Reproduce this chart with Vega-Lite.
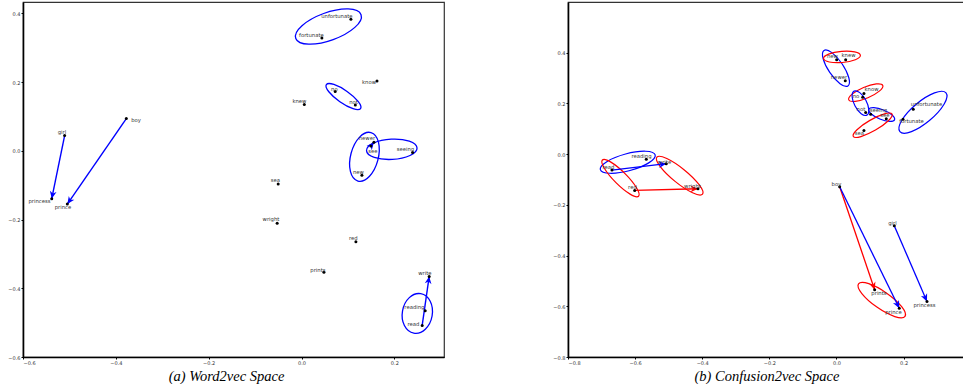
{
  "$schema": "https://vega.github.io/schema/vega-lite/v6.json",
  "background": "white",
  "padding": {"left": 7, "top": 1, "right": 0, "bottom": 0},
  "spacing": 107,
  "config": {
    "view": {"stroke": "#333", "strokeWidth": 1.2},
    "axis": {"grid": false, "domainColor": "#000", "domainWidth": 1.6, "tickColor": "#000", "tickSize": 2, "tickWidth": 1,
      "labelFont": "DejaVu Sans", "labelFontSize": 5, "labelColor": "#333", "labelPadding": 1,
      "titleFont": "Liberation Serif", "titleFontSize": 14.5, "titleFontWeight": "normal", "titleFontStyle": "italic", "titleColor": "#000", "titlePadding": 4, "format": ".1f"}
  },
  "resolve": {"scale": {"size": "independent", "shape": "independent", "color": "independent"}},
  "datasets": {
    "ptsA": [
      {"word": "girl", "x": -0.5103, "y": 0.0442, "lx": -0.516, "ly": 0.054},
      {"word": "boy", "x": -0.3774, "y": 0.0937, "lx": -0.3565, "ly": 0.0888},
      {"word": "princess", "x": -0.5381, "y": -0.1392, "lx": -0.5646, "ly": -0.147},
      {"word": "prince", "x": -0.5045, "y": -0.1549, "lx": -0.514, "ly": -0.1645},
      {"word": "unfortunate", "x": 0.1064, "y": 0.3828, "lx": 0.0762, "ly": 0.3916},
      {"word": "fortunate", "x": 0.0439, "y": 0.3284, "lx": 0.0213, "ly": 0.3377},
      {"word": "know", "x": 0.1626, "y": 0.2032, "lx": 0.1454, "ly": 0.1994},
      {"word": "no", "x": 0.0726, "y": 0.1723, "lx": 0.0709, "ly": 0.1805},
      {"word": "not", "x": 0.1159, "y": 0.1333, "lx": 0.112, "ly": 0.1426},
      {"word": "knew", "x": 0.006, "y": 0.1345, "lx": -0.0045, "ly": 0.1441},
      {"word": "newer", "x": 0.156, "y": 0.0247, "lx": 0.1409, "ly": 0.0364},
      {"word": "see", "x": 0.1495, "y": 0.014, "lx": 0.1538, "ly": -0.0015},
      {"word": "seeing", "x": 0.2393, "y": -0.0052, "lx": 0.2238, "ly": 0.0044},
      {"word": "new", "x": 0.1301, "y": -0.0713, "lx": 0.1226, "ly": -0.0626},
      {"word": "sea", "x": -0.0502, "y": -0.0967, "lx": -0.0562, "ly": -0.0859},
      {"word": "wright", "x": -0.0524, "y": -0.211, "lx": -0.0657, "ly": -0.1994},
      {"word": "prints", "x": 0.0483, "y": -0.3537, "lx": 0.0353, "ly": -0.3479},
      {"word": "red", "x": 0.1172, "y": -0.2643, "lx": 0.1118, "ly": -0.2547},
      {"word": "write", "x": 0.2751, "y": -0.3654, "lx": 0.2658, "ly": -0.3566},
      {"word": "reading", "x": 0.2665, "y": -0.4652, "lx": 0.2432, "ly": -0.4556},
      {"word": "read", "x": 0.26, "y": -0.508, "lx": 0.2411, "ly": -0.5051}
    ],
    "arrA": [
      {"x": -0.5103, "y": 0.0442, "x2": -0.5381, "y2": -0.1392, "kind": "semantic"},
      {"x": -0.3774, "y": 0.0937, "x2": -0.5045, "y2": -0.1549, "kind": "semantic"},
      {"x": 0.26, "y": -0.508, "x2": 0.2751, "y2": -0.3654, "kind": "semantic"},
      {"x": 0.1495, "y": 0.014, "x2": 0.156, "y2": 0.0247, "kind": "semantic"}
    ],
    "ellA": [
      {"x": 0.058, "y": 0.3616, "semi": 0.0748, "ratio": 0.4, "tilt": 340, "kind": "semantic"},
      {"x": 0.0904, "y": 0.1578, "semi": 0.045, "ratio": 0.3, "tilt": 35, "kind": "semantic"},
      {"x": 0.1356, "y": -0.0175, "semi": 0.0541, "ratio": 0.55, "tilt": 285, "kind": "semantic"},
      {"x": 0.1945, "y": 0.0044, "semi": 0.0545, "ratio": 0.4, "tilt": 357, "kind": "semantic"},
      {"x": 0.2495, "y": -0.4731, "semi": 0.0431, "ratio": 0.75, "tilt": 280, "kind": "semantic"}
    ],
    "ptsB": [
      {"word": "reading", "x": -0.5667, "y": -0.0197, "lx": -0.581, "ly": -0.0091},
      {"word": "read", "x": -0.669, "y": -0.063, "lx": -0.6794, "ly": -0.0524},
      {"word": "write", "x": -0.5072, "y": -0.0378, "lx": -0.5125, "ly": -0.0327},
      {"word": "red", "x": -0.6013, "y": -0.1431, "lx": -0.6079, "ly": -0.1313},
      {"word": "wright", "x": -0.4127, "y": -0.1364, "lx": -0.4291, "ly": -0.1242},
      {"word": "new", "x": 0.0006, "y": 0.3722, "lx": -0.0119, "ly": 0.3853},
      {"word": "knew", "x": 0.0274, "y": 0.3722, "lx": 0.0358, "ly": 0.3892},
      {"word": "newer", "x": 0.0262, "y": 0.2894, "lx": 0.0074, "ly": 0.3024},
      {"word": "know", "x": 0.0819, "y": 0.2394, "lx": 0.1043, "ly": 0.2551},
      {"word": "no", "x": 0.0781, "y": 0.2248, "lx": 0.0581, "ly": 0.2275},
      {"word": "not", "x": 0.087, "y": 0.1644, "lx": 0.073, "ly": 0.1763},
      {"word": "seeing", "x": 0.1019, "y": 0.1577, "lx": 0.1252, "ly": 0.1723},
      {"word": "see", "x": 0.1484, "y": 0.1396, "lx": 0.1445, "ly": 0.1526},
      {"word": "sea", "x": 0.0819, "y": 0.0935, "lx": 0.0685, "ly": 0.0816},
      {"word": "unfortunate", "x": 0.2288, "y": 0.1774, "lx": 0.2682, "ly": 0.196},
      {"word": "fortunate", "x": 0.1982, "y": 0.138, "lx": 0.2235, "ly": 0.1289},
      {"word": "boy", "x": 0.0095, "y": -0.1285, "lx": 0.0, "ly": -0.1195},
      {"word": "girl", "x": 0.1722, "y": -0.2823, "lx": 0.1669, "ly": -0.2733},
      {"word": "prints", "x": 0.1138, "y": -0.5347, "lx": 0.1266, "ly": -0.5493},
      {"word": "prince", "x": 0.1871, "y": -0.608, "lx": 0.1698, "ly": -0.621},
      {"word": "princess", "x": 0.2697, "y": -0.5808, "lx": 0.2622, "ly": -0.5966}
    ],
    "arrB": [
      {"x": -0.669, "y": -0.063, "x2": -0.5072, "y2": -0.0378, "kind": "semantic"},
      {"x": -0.6013, "y": -0.1431, "x2": -0.4127, "y2": -0.1364, "kind": "acoustic"},
      {"x": 0.0095, "y": -0.1285, "x2": 0.1138, "y2": -0.5347, "kind": "acoustic"},
      {"x": 0.0095, "y": -0.1285, "x2": 0.1871, "y2": -0.608, "kind": "semantic"},
      {"x": 0.1722, "y": -0.2823, "x2": 0.2697, "y2": -0.5808, "kind": "semantic"}
    ],
    "ellB": [
      {"x": -0.6219, "y": -0.032, "semi": 0.0846, "ratio": 0.3, "tilt": 345, "kind": "semantic"},
      {"x": -0.6436, "y": -0.0946, "semi": 0.0763, "ratio": 0.25, "tilt": 45, "kind": "acoustic"},
      {"x": -0.4672, "y": -0.0848, "semi": 0.0876, "ratio": 0.25, "tilt": 39, "kind": "acoustic"},
      {"x": -0.0015, "y": 0.3391, "semi": 0.0638, "ratio": 0.35, "tilt": 56, "kind": "semantic"},
      {"x": 0.0164, "y": 0.3833, "semi": 0.0551, "ratio": 0.3, "tilt": 355, "kind": "acoustic"},
      {"x": 0.0873, "y": 0.2425, "semi": 0.0551, "ratio": 0.3, "tilt": 337, "kind": "acoustic"},
      {"x": 0.0715, "y": 0.2011, "semi": 0.0405, "ratio": 0.45, "tilt": 62, "kind": "semantic"},
      {"x": 0.1347, "y": 0.1565, "semi": 0.0414, "ratio": 0.35, "tilt": 22, "kind": "semantic"},
      {"x": 0.1079, "y": 0.114, "semi": 0.0667, "ratio": 0.25, "tilt": 330, "kind": "acoustic"},
      {"x": 0.2577, "y": 0.1652, "semi": 0.0897, "ratio": 0.35, "tilt": 320, "kind": "semantic"},
      {"x": 0.135, "y": -0.5757, "semi": 0.0846, "ratio": 0.3, "tilt": 35, "kind": "acoustic"}
    ]
  },
  "hconcat": [
    {
      "width": 421,
      "height": 355,
      "layer": [
        {
          "data": {"name": "ellA"},
          "mark": {"type": "point", "filled": false, "strokeWidth": 1.3, "opacity": 1},
          "encoding": {
            "x": {"field": "x", "type": "quantitative", "scale": {"domain": [-0.6, 0.307], "nice": false, "zero": false}, "axis": {"values": [-0.6, -0.4, -0.2, 0, 0.2], "title": "(a) Word2vec Space", "titleX": 203}},
            "y": {"field": "y", "type": "quantitative", "scale": {"domain": [-0.6, 0.433], "nice": false, "zero": false}, "axis": {"values": [-0.6, -0.4, -0.2, 0, 0.2, 0.4], "title": null}},
            "size": {"field": "semi", "type": "quantitative", "scale": {"type": "pow", "exponent": 2, "domain": [0, 0.1], "range": [0, 8619]}, "legend": null},
            "shape": {"field": "ratio", "type": "ordinal", "legend": null, "scale": {"domain": [0.25, 0.3, 0.35, 0.4, 0.45, 0.55, 0.75], "range": [
              "M-1,0C-1,-0.1381,-0.5523,-0.25,0,-0.25C0.5523,-0.25,1,-0.1381,1,0C1,0.1381,0.5523,0.25,0,0.25C-0.5523,0.25,-1,0.1381,-1,0Z",
              "M-1,0C-1,-0.1657,-0.5523,-0.3,0,-0.3C0.5523,-0.3,1,-0.1657,1,0C1,0.1657,0.5523,0.3,0,0.3C-0.5523,0.3,-1,0.1657,-1,0Z",
              "M-1,0C-1,-0.1933,-0.5523,-0.35,0,-0.35C0.5523,-0.35,1,-0.1933,1,0C1,0.1933,0.5523,0.35,0,0.35C-0.5523,0.35,-1,0.1933,-1,0Z",
              "M-1,0C-1,-0.2209,-0.5523,-0.4,0,-0.4C0.5523,-0.4,1,-0.2209,1,0C1,0.2209,0.5523,0.4,0,0.4C-0.5523,0.4,-1,0.2209,-1,0Z",
              "M-1,0C-1,-0.2485,-0.5523,-0.45,0,-0.45C0.5523,-0.45,1,-0.2485,1,0C1,0.2485,0.5523,0.45,0,0.45C-0.5523,0.45,-1,0.2485,-1,0Z",
              "M-1,0C-1,-0.3038,-0.5523,-0.55,0,-0.55C0.5523,-0.55,1,-0.3038,1,0C1,0.3038,0.5523,0.55,0,0.55C-0.5523,0.55,-1,0.3038,-1,0Z",
              "M-1,0C-1,-0.4142,-0.5523,-0.75,0,-0.75C0.5523,-0.75,1,-0.4142,1,0C1,0.4142,0.5523,0.75,0,0.75C-0.5523,0.75,-1,0.4142,-1,0Z"]}},
            "angle": {"field": "tilt", "type": "quantitative", "scale": null},
            "color": {"field": "kind", "type": "nominal", "scale": {"domain": ["semantic", "acoustic"], "range": ["#0000ff", "#ff0000"]}, "legend": null}
          }
        },
        {
          "data": {"name": "arrA"},
          "mark": {"type": "rule", "strokeWidth": 1.4},
          "encoding": {
            "x": {"field": "x", "type": "quantitative", "scale": {"domain": [-0.6, 0.307], "nice": false, "zero": false}, "axis": {"values": [-0.6, -0.4, -0.2, 0, 0.2], "title": "(a) Word2vec Space", "titleX": 203}},
            "y": {"field": "y", "type": "quantitative", "scale": {"domain": [-0.6, 0.433], "nice": false, "zero": false}, "axis": {"values": [-0.6, -0.4, -0.2, 0, 0.2, 0.4], "title": null}},
            "x2": {"field": "x2"},
            "y2": {"field": "y2"},
            "color": {"field": "kind", "type": "nominal", "scale": {"domain": ["semantic", "acoustic"], "range": ["#0000ff", "#ff0000"]}, "legend": null}
          }
        },
        {
          "data": {"name": "arrA"},
          "transform": [{"calculate": "(atan2((datum.x2 - datum.x) * 464.2, (datum.y2 - datum.y) * 343.5) * 180 / PI + 360) % 360", "as": "ang"}],
          "mark": {"type": "point", "filled": true, "opacity": 1, "size": 56, "shape": "M0,0L0.9,2L0,1.4L-0.9,2Z", "strokeWidth": 0.5},
          "encoding": {
            "x": {"field": "x2", "type": "quantitative", "scale": {"domain": [-0.6, 0.307], "nice": false, "zero": false}, "axis": {"values": [-0.6, -0.4, -0.2, 0, 0.2], "title": "(a) Word2vec Space", "titleX": 203}},
            "y": {"field": "y2", "type": "quantitative", "scale": {"domain": [-0.6, 0.433], "nice": false, "zero": false}, "axis": {"values": [-0.6, -0.4, -0.2, 0, 0.2, 0.4], "title": null}},
            "angle": {"field": "ang", "type": "quantitative", "scale": null},
            "color": {"field": "kind", "type": "nominal", "scale": {"domain": ["semantic", "acoustic"], "range": ["#0000ff", "#ff0000"]}, "legend": null}
          }
        },
        {
          "data": {"name": "ptsA"},
          "mark": {"type": "point", "filled": true, "opacity": 1, "size": 9, "shape": "circle", "color": "#000"},
          "encoding": {
            "x": {"field": "x", "type": "quantitative", "scale": {"domain": [-0.6, 0.307], "nice": false, "zero": false}, "axis": {"values": [-0.6, -0.4, -0.2, 0, 0.2], "title": "(a) Word2vec Space", "titleX": 203}},
            "y": {"field": "y", "type": "quantitative", "scale": {"domain": [-0.6, 0.433], "nice": false, "zero": false}, "axis": {"values": [-0.6, -0.4, -0.2, 0, 0.2, 0.4], "title": null}}
          }
        },
        {
          "data": {"name": "ptsA"},
          "mark": {"type": "text", "font": "DejaVu Sans", "fontSize": 5.3, "color": "#333", "align": "center", "baseline": "middle"},
          "encoding": {
            "x": {"field": "lx", "type": "quantitative", "scale": {"domain": [-0.6, 0.307], "nice": false, "zero": false}, "axis": {"values": [-0.6, -0.4, -0.2, 0, 0.2], "title": "(a) Word2vec Space", "titleX": 203}},
            "y": {"field": "ly", "type": "quantitative", "scale": {"domain": [-0.6, 0.433], "nice": false, "zero": false}, "axis": {"values": [-0.6, -0.4, -0.2, 0, 0.2, 0.4], "title": null}},
            "text": {"field": "word", "type": "nominal"}
          }
        }
      ]
    },
    {
      "width": 397,
      "height": 355,
      "layer": [
        {
          "data": {"name": "ellB"},
          "mark": {"type": "point", "filled": false, "strokeWidth": 1.2, "opacity": 1},
          "encoding": {
            "x": {"field": "x", "type": "quantitative", "scale": {"domain": [-0.8, 0.383], "nice": false, "zero": false}, "axis": {"values": [-0.8, -0.6, -0.4, -0.2, 0, 0.2], "title": "(b) Confusion2vec Space"}},
            "y": {"field": "y", "type": "quantitative", "scale": {"domain": [-0.8, 0.6], "nice": false, "zero": false}, "axis": {"values": [-0.8, -0.6, -0.4, -0.2, 0, 0.2, 0.4], "title": null}},
            "size": {"field": "semi", "type": "quantitative", "scale": {"type": "pow", "exponent": 2, "domain": [0, 0.1], "range": [0, 4505]}, "legend": null},
            "shape": {"field": "ratio", "type": "ordinal", "legend": null, "scale": {"domain": [0.25, 0.3, 0.35, 0.4, 0.45, 0.55, 0.75], "range": [
              "M-1,0C-1,-0.1381,-0.5523,-0.25,0,-0.25C0.5523,-0.25,1,-0.1381,1,0C1,0.1381,0.5523,0.25,0,0.25C-0.5523,0.25,-1,0.1381,-1,0Z",
              "M-1,0C-1,-0.1657,-0.5523,-0.3,0,-0.3C0.5523,-0.3,1,-0.1657,1,0C1,0.1657,0.5523,0.3,0,0.3C-0.5523,0.3,-1,0.1657,-1,0Z",
              "M-1,0C-1,-0.1933,-0.5523,-0.35,0,-0.35C0.5523,-0.35,1,-0.1933,1,0C1,0.1933,0.5523,0.35,0,0.35C-0.5523,0.35,-1,0.1933,-1,0Z",
              "M-1,0C-1,-0.2209,-0.5523,-0.4,0,-0.4C0.5523,-0.4,1,-0.2209,1,0C1,0.2209,0.5523,0.4,0,0.4C-0.5523,0.4,-1,0.2209,-1,0Z",
              "M-1,0C-1,-0.2485,-0.5523,-0.45,0,-0.45C0.5523,-0.45,1,-0.2485,1,0C1,0.2485,0.5523,0.45,0,0.45C-0.5523,0.45,-1,0.2485,-1,0Z",
              "M-1,0C-1,-0.3038,-0.5523,-0.55,0,-0.55C0.5523,-0.55,1,-0.3038,1,0C1,0.3038,0.5523,0.55,0,0.55C-0.5523,0.55,-1,0.3038,-1,0Z",
              "M-1,0C-1,-0.4142,-0.5523,-0.75,0,-0.75C0.5523,-0.75,1,-0.4142,1,0C1,0.4142,0.5523,0.75,0,0.75C-0.5523,0.75,-1,0.4142,-1,0Z"]}},
            "angle": {"field": "tilt", "type": "quantitative", "scale": null},
            "color": {"field": "kind", "type": "nominal", "scale": {"domain": ["semantic", "acoustic"], "range": ["#0000ff", "#ff0000"]}, "legend": null}
          }
        },
        {
          "data": {"name": "arrB"},
          "mark": {"type": "rule", "strokeWidth": 1.3},
          "encoding": {
            "x": {"field": "x", "type": "quantitative", "scale": {"domain": [-0.8, 0.383], "nice": false, "zero": false}, "axis": {"values": [-0.8, -0.6, -0.4, -0.2, 0, 0.2], "title": "(b) Confusion2vec Space"}},
            "y": {"field": "y", "type": "quantitative", "scale": {"domain": [-0.8, 0.6], "nice": false, "zero": false}, "axis": {"values": [-0.8, -0.6, -0.4, -0.2, 0, 0.2, 0.4], "title": null}},
            "x2": {"field": "x2"},
            "y2": {"field": "y2"},
            "color": {"field": "kind", "type": "nominal", "scale": {"domain": ["semantic", "acoustic"], "range": ["#0000ff", "#ff0000"]}, "legend": null}
          }
        },
        {
          "data": {"name": "arrB"},
          "transform": [{"calculate": "(atan2((datum.x2 - datum.x) * 335.6, (datum.y2 - datum.y) * 253.6) * 180 / PI + 360) % 360", "as": "ang"}],
          "mark": {"type": "point", "filled": true, "opacity": 1, "size": 56, "shape": "M0,0L0.9,2L0,1.4L-0.9,2Z", "strokeWidth": 0.5},
          "encoding": {
            "x": {"field": "x2", "type": "quantitative", "scale": {"domain": [-0.8, 0.383], "nice": false, "zero": false}, "axis": {"values": [-0.8, -0.6, -0.4, -0.2, 0, 0.2], "title": "(b) Confusion2vec Space"}},
            "y": {"field": "y2", "type": "quantitative", "scale": {"domain": [-0.8, 0.6], "nice": false, "zero": false}, "axis": {"values": [-0.8, -0.6, -0.4, -0.2, 0, 0.2, 0.4], "title": null}},
            "angle": {"field": "ang", "type": "quantitative", "scale": null},
            "color": {"field": "kind", "type": "nominal", "scale": {"domain": ["semantic", "acoustic"], "range": ["#0000ff", "#ff0000"]}, "legend": null}
          }
        },
        {
          "data": {"name": "ptsB"},
          "mark": {"type": "point", "filled": true, "opacity": 1, "size": 9, "shape": "circle", "color": "#000"},
          "encoding": {
            "x": {"field": "x", "type": "quantitative", "scale": {"domain": [-0.8, 0.383], "nice": false, "zero": false}, "axis": {"values": [-0.8, -0.6, -0.4, -0.2, 0, 0.2], "title": "(b) Confusion2vec Space"}},
            "y": {"field": "y", "type": "quantitative", "scale": {"domain": [-0.8, 0.6], "nice": false, "zero": false}, "axis": {"values": [-0.8, -0.6, -0.4, -0.2, 0, 0.2, 0.4], "title": null}}
          }
        },
        {
          "data": {"name": "ptsB"},
          "mark": {"type": "text", "font": "DejaVu Sans", "fontSize": 5.3, "color": "#333", "align": "center", "baseline": "middle"},
          "encoding": {
            "x": {"field": "lx", "type": "quantitative", "scale": {"domain": [-0.8, 0.383], "nice": false, "zero": false}, "axis": {"values": [-0.8, -0.6, -0.4, -0.2, 0, 0.2], "title": "(b) Confusion2vec Space"}},
            "y": {"field": "ly", "type": "quantitative", "scale": {"domain": [-0.8, 0.6], "nice": false, "zero": false}, "axis": {"values": [-0.8, -0.6, -0.4, -0.2, 0, 0.2, 0.4], "title": null}},
            "text": {"field": "word", "type": "nominal"}
          }
        }
      ]
    }
  ]
}
